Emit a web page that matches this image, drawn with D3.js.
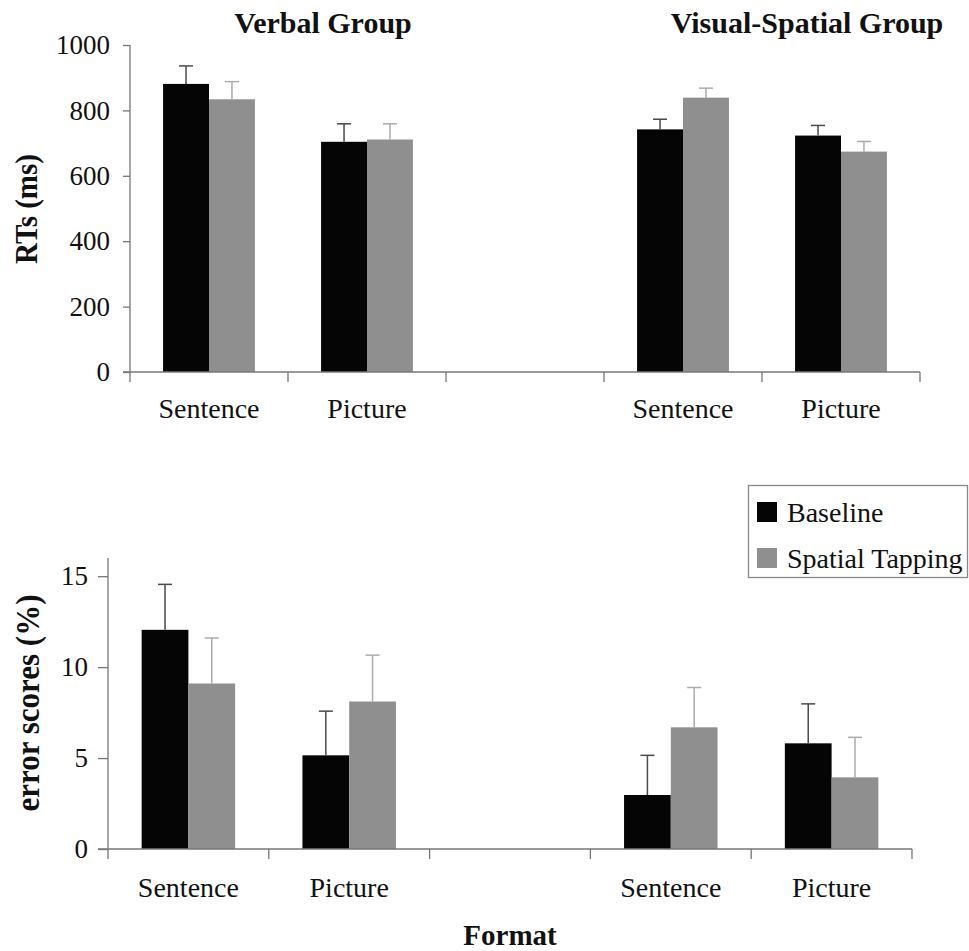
<!DOCTYPE html>
<html>
<head>
<meta charset="utf-8">
<script src="https://cdn.jsdelivr.net/npm/d3@7"></script>
<style>
  html, body { margin: 0; padding: 0; background: #fff; }
  svg { display: block; }
  svg text { font-family: "Liberation Serif", "Times New Roman", Times, Tinos, "DejaVu Serif", serif; fill: #111; }
</style>
</head>
<body>
<svg id="chart" width="969" height="951"></svg>
<script>
// ---- data ----
const categories = ["V-Sentence", "V-Picture", "gap", "VS-Sentence", "VS-Picture"];
const categoryLabels = ["Sentence", "Picture", "", "Sentence", "Picture"];
const seriesNames = ["Baseline", "Spatial Tapping"];
const groupTitles = ["Verbal Group", "Visual-Spatial Group"];

const rtBaseline = [881, 704, null, 742, 723];
const rtBaselineErr = [55, 55, null, 31, 31];
const rtTapping = [834, 711, null, 839, 674];
const rtTappingErr = [54, 48, null, 29, 31];
const rtTicks = [0, 200, 400, 600, 800, 1000];

const errBaseline = [12.05, 5.15, null, 2.97, 5.81];
const errBaselineErr = [2.5, 2.43, null, 2.18, 2.17];
const errTapping = [9.1, 8.11, null, 6.69, 3.94];
const errTappingErr = [2.5, 2.55, null, 2.19, 2.2];
const errTicks = [0, 5, 10, 15];

// ---- styles ----
const FONT = "'Liberation Serif', 'Times New Roman', Times, Tinos, 'DejaVu Serif', serif";
const barColors = { "Baseline": "#050505", "Spatial Tapping": "#8f8f8f" };
const errColors = { "Baseline": "#4a4a4a", "Spatial Tapping": "#ababab" };
const axisColor = "#777";

const svg = d3.select("#chart");

function drawPanel(cfg) {
  const g = svg.append("g");
  const x = d3.scaleBand().domain(categories).range([cfg.x0, cfg.x1]).paddingInner(0).paddingOuter(0);
  const xs = d3.scaleBand().domain(seriesNames).range([0, x.bandwidth()]).paddingInner(0).paddingOuter(0.72);
  const y = d3.scaleLinear().domain([0, cfg.yMax]).range([cfg.yBottom, cfg.yTop]);

  const rows = [];
  categories.forEach((c, i) => {
    cfg.values.forEach((vals, si) => {
      if (vals[i] != null) rows.push({ cat: c, series: seriesNames[si], v: vals[i], e: cfg.errs[si][i] });
    });
  });

  // bars
  g.selectAll("rect.bar").data(rows).join("rect")
    .attr("class", "bar")
    .attr("x", d => x(d.cat) + xs(d.series))
    .attr("width", xs.bandwidth())
    .attr("y", d => y(d.v))
    .attr("height", d => y(0) - y(d.v))
    .attr("fill", d => barColors[d.series]);

  // error bars
  const capW = 14;
  const eb = g.selectAll("g.err").data(rows).join("g").attr("class", "err")
    .attr("stroke", d => errColors[d.series]).attr("stroke-width", 1.5);
  eb.append("line")
    .attr("x1", d => x(d.cat) + xs(d.series) + xs.bandwidth() / 2)
    .attr("x2", d => x(d.cat) + xs(d.series) + xs.bandwidth() / 2)
    .attr("y1", d => y(d.v)).attr("y2", d => y(d.v + d.e));
  eb.append("line")
    .attr("x1", d => x(d.cat) + xs(d.series) + xs.bandwidth() / 2 - capW / 2)
    .attr("x2", d => x(d.cat) + xs(d.series) + xs.bandwidth() / 2 + capW / 2)
    .attr("y1", d => y(d.v + d.e)).attr("y2", d => y(d.v + d.e));

  // y axis
  const yAxis = g.append("g").attr("transform", `translate(${cfg.x0},0)`)
    .call(d3.axisLeft(y).tickValues(cfg.ticks).tickFormat(d3.format("d"))
      .tickSize(cfg.yTick).tickSizeOuter(0).tickPadding(cfg.yPad));
  yAxis.attr("font-family", FONT);
  yAxis.select(".domain").remove();
  yAxis.selectAll(".tick line").attr("stroke", axisColor).attr("stroke-width", 1.3);
  yAxis.selectAll(".tick text").attr("font-size", cfg.tickFont).attr("font-family", FONT).attr("fill", "#111");
  g.append("line").attr("x1", cfg.x0).attr("x2", cfg.x0).attr("y1", y.range()[1]).attr("y2", cfg.yBottom)
    .attr("stroke", axisColor).attr("stroke-width", 1.3);

  // x axis line
  g.append("line").attr("x1", cfg.x0 - cfg.yTick).attr("x2", cfg.x1).attr("y1", cfg.yBottom).attr("y2", cfg.yBottom)
    .attr("stroke", axisColor).attr("stroke-width", 1.3);
  // boundary ticks
  const bounds = categories.map(c => x(c)).concat([x.range()[1]]);
  g.selectAll("line.xtick").data(bounds).join("line").attr("class", "xtick")
    .attr("x1", d => d).attr("x2", d => d).attr("y1", cfg.yBottom).attr("y2", cfg.yBottom + cfg.xTick)
    .attr("stroke", axisColor).attr("stroke-width", 1.3);
  // category labels
  g.selectAll("text.cat").data(categories).join("text").attr("class", "cat")
    .attr("x", c => x(c) + x.bandwidth() / 2).attr("y", cfg.labelY)
    .attr("text-anchor", "middle").attr("font-size", 28).attr("font-family", FONT)
    .text((c, i) => categoryLabels[i]);

  // y title
  g.append("text")
    .attr("transform", `translate(${cfg.titleX},${cfg.titleY}) rotate(-90)`)
    .attr("text-anchor", "middle").attr("font-weight", "bold").attr("font-size", cfg.titleFont)
    .attr("font-family", FONT)
    .attr("textLength", cfg.titleLen).attr("lengthAdjust", "spacingAndGlyphs")
    .text(cfg.title);
  return x;
}

drawPanel({
  x0: 130, x1: 920, yTop: 45, yBottom: 372, yMax: 1000,
  values: [rtBaseline, rtTapping], errs: [rtBaselineErr, rtTappingErr],
  ticks: rtTicks, yTick: 7, yPad: 13, xTick: 10, tickFont: 27, labelY: 418,
  title: "RTs (ms)", titleX: 37, titleY: 209, titleFont: 31, titleLen: 110
});

drawPanel({
  x0: 108, x1: 912, yTop: 558, yBottom: 849, yMax: 16,
  values: [errBaseline, errTapping], errs: [errBaselineErr, errTappingErr],
  ticks: errTicks, yTick: 10, yPad: 10, xTick: 10, tickFont: 27, labelY: 897,
  title: "error scores (%)", titleX: 39, titleY: 703, titleFont: 33, titleLen: 217
});

// group titles
const titleCenters = [323, 807];
svg.selectAll("text.gtitle").data(groupTitles).join("text").attr("class", "gtitle")
  .attr("x", (d, i) => titleCenters[i]).attr("y", 33)
  .attr("text-anchor", "middle").attr("font-weight", "bold").attr("font-size", 30)
  .attr("font-family", FONT)
  .text(d => d);

// x title
svg.append("text").attr("x", 510).attr("y", 945).attr("text-anchor", "middle")
  .attr("font-weight", "bold").attr("font-size", 29).attr("font-family", FONT).text("Format");

// legend
const lg = svg.append("g");
lg.append("rect").attr("x", 748.5).attr("y", 485.5).attr("width", 219).attr("height", 92)
  .attr("fill", "#fff").attr("stroke", "#888").attr("stroke-width", 1.3);
const items = lg.selectAll("g.item").data(seriesNames).join("g").attr("class", "item")
  .attr("transform", (d, i) => `translate(757,${502 + i * 46})`);
items.append("rect").attr("width", 20).attr("height", 20).attr("fill", d => barColors[d]);
items.append("text").attr("x", 30).attr("y", 20).attr("font-size", 28).attr("font-family", FONT).text(d => d);
</script>
</body>
</html>
